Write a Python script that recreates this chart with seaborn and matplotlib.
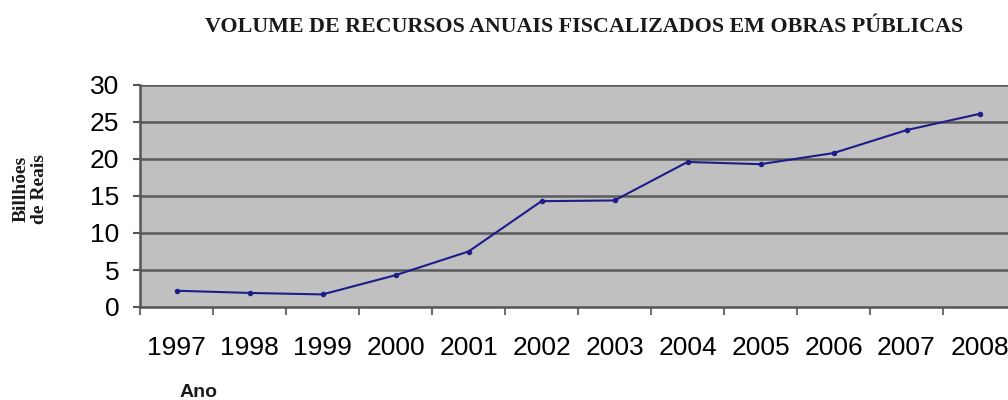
import matplotlib
matplotlib.use("Agg")
import matplotlib.pyplot as plt
import seaborn as sns
import numpy as np
import pandas as pd

years = ["1997", "1998", "1999", "2000", "2001", "2002",
         "2003", "2004", "2005", "2006", "2007", "2008"]
values = [2.2, 1.9, 1.7, 4.3, 7.5, 14.3, 14.4, 19.6, 19.3, 20.8, 23.9, 26.1]
yticks = [0, 5, 10, 15, 20, 25, 30]

title = "VOLUME DE RECURSOS ANUAIS FISCALIZADOS EM OBRAS PÚBLICAS"
ylabel = "Billhões\nde Reais"
xlabel = "Ano"

sns.set_theme(style="white")
plt.rcParams['font.family'] = ['Liberation Sans', 'DejaVu Sans']

df = pd.DataFrame({"Ano": years, "Valor": values})

fig = plt.figure(figsize=(10.08, 4.0), dpi=100)
ax = fig.add_axes([140/1008, 1 - 307/400, 1 - 140/1008, (307 - 85)/400])
ax.set_facecolor("#c0c0c0")

sns.lineplot(data=df, x="Ano", y="Valor", ax=ax, color="#1c1c8a",
             linewidth=1.5, marker="o", markersize=3.2,
             markeredgecolor="#1c1c8a", zorder=5)

ax.set_ylim(0, 30)
ax.set_xlim(-0.5, (1008 - 140) / 73 - 0.5)
ax.set_yticks(yticks)
ax.set_yticklabels([str(v) for v in yticks])
for v in yticks[1:]:
    ax.axhline(v, color="#5a5a5a", linewidth=1.8, zorder=2)

ax.set_xticks(range(len(years)))
ax.set_xticklabels(years)
ax.set_xticks(np.arange(len(years)) - 0.5, minor=True)
ax.tick_params(axis="x", which="major", length=0, pad=21, labelsize=19, labelcolor="#000000")
ax.tick_params(axis="x", which="minor", length=6, width=1.5, color="#707070", direction="out", bottom=True)
ax.tick_params(axis="y", which="major", length=5, width=1.5, color="#555555", direction="out", left=True,
               pad=10, labelsize=19, labelcolor="#000000")

for s in ["top", "right"]:
    ax.spines[s].set_visible(False)
ax.spines["left"].set_color("#555555")
ax.spines["left"].set_linewidth(1.8)
ax.spines["bottom"].set_color("#555555")
ax.spines["bottom"].set_linewidth(1.8)
ax.set_xlabel("")
ax.set_ylabel("")

fig.text(584/1008, 1 - 27/400, title, ha="center", va="center",
         fontsize=15.8, fontweight="bold", family=["Liberation Serif"], color="#1a1a1a")
fig.text(30/1008, 1 - 189/400, ylabel, ha="center", va="center", rotation=90,
         fontsize=14, fontweight="bold", family=["Liberation Serif"], color="#1a1a1a",
         multialignment="center", linespacing=1.1)
fig.text(180/1008, 1 - 397/400, xlabel, ha="left", va="baseline",
         fontsize=14, fontweight="bold", color="#1a1a1a")

fig.savefig("out.png", dpi=100)
